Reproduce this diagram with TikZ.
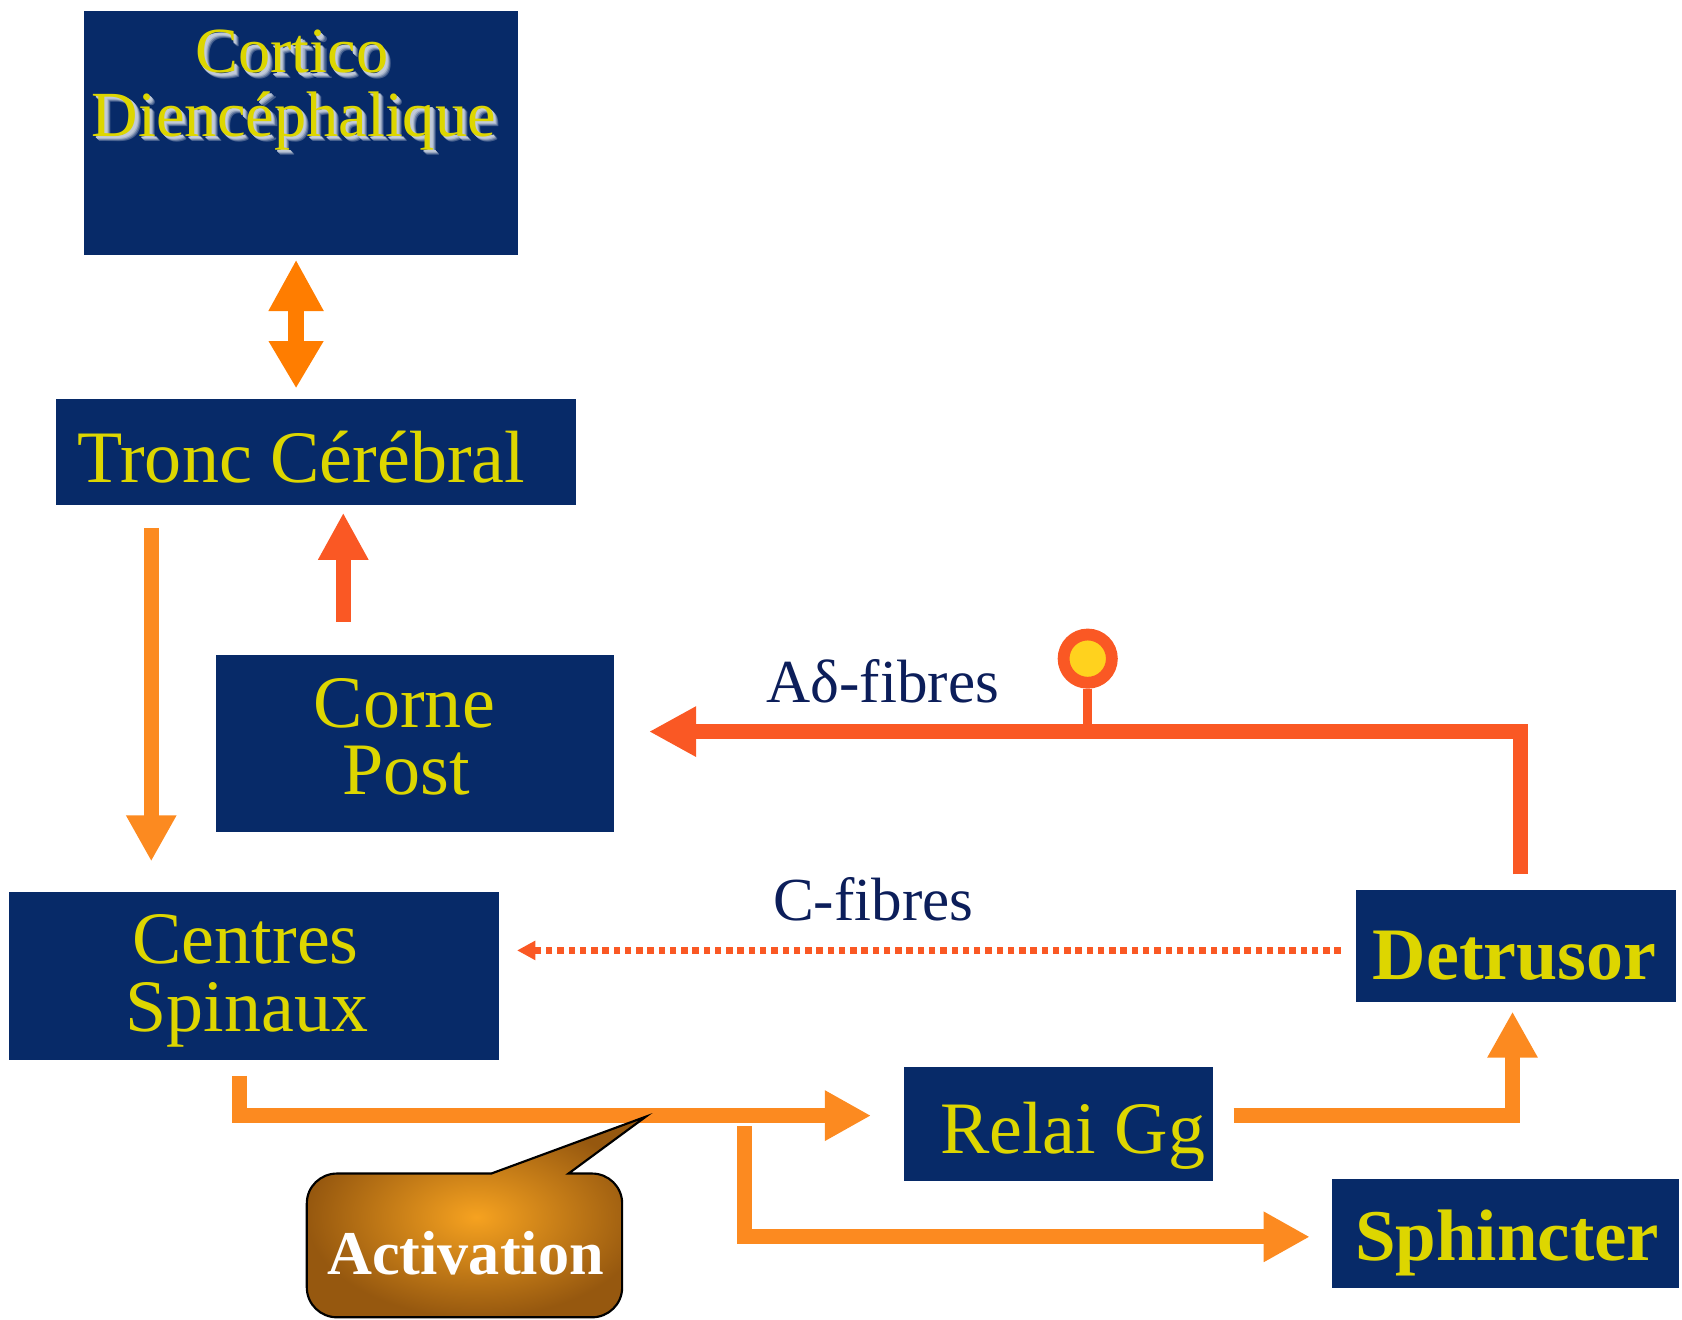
\documentclass[tikz,border=0pt]{standalone}
\usepackage{fontspec}
\setmainfont{Liberation Serif}
\usetikzlibrary{arrows.meta,calc}
\definecolor{navy}{RGB}{7,42,104}
\definecolor{ylw}{RGB}{221,214,0}
\definecolor{orgA}{RGB}{255,125,0}
\definecolor{orgL}{RGB}{252,138,32}
\definecolor{orgR}{RGB}{250,88,36}
\definecolor{dot}{RGB}{255,210,30}
\definecolor{lbl}{RGB}{12,30,90}
\definecolor{brIn}{RGB}{246,162,32}
\definecolor{brOut}{RGB}{150,88,15}
\newcommand\glowtext[1]{%
  \leavevmode
  \rlap{\hspace{5pt}\raisebox{-5pt}{\textcolor{navy!75!white}{#1}}}%
  \rlap{\hspace{4pt}\raisebox{-4pt}{\textcolor{navy!55!white}{#1}}}%
  \rlap{\hspace{3pt}\raisebox{-3pt}{\textcolor{navy!35!white}{#1}}}%
  \rlap{\hspace{2pt}\raisebox{-2pt}{\textcolor{navy!25!white}{#1}}}%
  #1}
\tikzset{
  box/.style={fill=navy, draw=none, inner sep=0pt, outer sep=0pt},
  txt/.style={text=ylw, inner sep=0pt, anchor=base},
  lab/.style={text=lbl, inner sep=0pt, anchor=base, font=\fontsize{57pt}{60pt}\selectfont},
  arrL/.style={draw=orgL, line width=14pt, -{Triangle[length=43pt,width=44pt]}},
  arrR/.style={draw=orgR, line width=14pt, -{Triangle[length=44pt,width=44pt]}},
}
\begin{document}
\begin{tikzpicture}[x=1pt,y=-1pt]
\useasboundingbox (0,0) rectangle (1568,1230);

% boxes
\node[box, minimum width=405pt, minimum height=228pt] (cortico) at (280.5,124) {};
\node[box, minimum width=485pt, minimum height=99pt] (tronc) at (294.5,421.5) {};
\node[box, minimum width=371pt, minimum height=165pt] (corne) at (386.5,693.5) {};
\node[box, minimum width=457pt, minimum height=156pt] (centres) at (236.5,910) {};
\node[box, minimum width=298pt, minimum height=104pt] (detrusor) at (1413,882) {};
\node[box, minimum width=288pt, minimum height=106pt] (relai) at (987,1048) {};
\node[box, minimum width=323pt, minimum height=102pt] (sphincter) at (1403.5,1150) {};

% texts
\begin{scope}[font=\fontsize{60pt}{60pt}\selectfont]
\node[txt] (t1) at (272,68) {\glowtext{Cortico}};
\node[txt] (t2) at (274,127) {\glowtext{Diencéphalique}};
\end{scope}
\begin{scope}[font=\fontsize{69pt}{69pt}\selectfont]
\node[txt] (t3) at (281,450) {Tronc Cérébral};
\node[txt] (t4) at (377,678) {Corne};
\node[txt] (t5) at (379,741) {Post};
\node[txt] (t6) at (229,898) {Centres};
\node[txt] (t7) at (230,962) {Spinaux};
\node[txt] (t8) at (1000,1075) {Relai Gg};
\node[txt, font=\fontsize{69pt}{69pt}\selectfont\bfseries] (t9) at (1412,913) {Detrusor};
\node[txt, font=\fontsize{68pt}{68pt}\selectfont\bfseries] (t10) at (1405,1175) {Sphincter};
\end{scope}

\node[lab] (adl) at (823,655) {Aδ-fibres};
\node[lab] (cfl) at (814,858) {C-fibres};

% double arrow
\draw[draw=orgA, line width=15pt, {Triangle[length=48pt,width=48pt]}-{Triangle[length=44pt,width=48pt]}]
  ($(cortico.south)+(-4.5,4)$) -- ($(tronc.north)+(-18.5,-10)$);
% tronc -> centres
\draw[arrL] ($(tronc.south)+(-153.5,21)$) -- ($(centres.north)+(-95.5,-29)$);
% corne -> tronc
\draw[arrR] ($(corne.north)+(-66.5,-31)$) -- ($(tronc.south)+(25.5,7)$);
% A-delta
\coordinate (adcorner) at (1417,682);
\draw[arrR] ($(detrusor.north)+(4,-15)$) -- (adcorner) -- ($(corne.east)+(33,-11.5)$);
% lollipop
\node[circle, draw=orgR, fill=dot, line width=11pt, minimum size=45pt, inner sep=0pt] (lolli) at (1014,614) {};
\coordinate (stemfoot) at (1014,680);
\draw[draw=orgR, line width=8pt] (lolli.south) -- (stemfoot);
% C-fibres dotted
\draw[draw=orgR, line width=6pt, dash pattern=on 6pt off 4.5pt, -{Triangle[length=17pt,width=17pt]}]
  ($(detrusor.west)+(-14,4)$) -- ($(centres.east)+(17,-24)$);
% centres -> relai
\coordinate (branch) at (694,1050);
\draw[arrL] ($(centres.south)+(-13.5,15)$) |- ($(relai.west)+(-31,-8)$);
% branch -> sphincter
\draw[arrL] (branch) |- ($(sphincter.west)+(-21,3)$);
% relai -> detrusor
\draw[arrL] ($(relai.east)+(19,-8)$) -| ($(detrusor.south)+(-3,9)$);

% Activation callout
\draw[draw=black, line width=2pt, inner color=brIn, outer color=brOut]
  (458,1094) -- (602,1041) -- (530,1094) -- (552,1094)
  .. controls (567,1094) and (580,1106) .. (580,1122) -- (580,1200)
  .. controls (580,1216) and (567,1228) .. (552,1228) -- (314,1228)
  .. controls (299,1228) and (286,1216) .. (286,1200) -- (286,1122)
  .. controls (286,1106) and (299,1094) .. (314,1094) -- cycle;
\node[inner sep=0pt, anchor=base, text=white, font=\fontsize{58pt}{58pt}\selectfont\bfseries] (activation) at (434,1188) {Activation};
\end{tikzpicture}
\end{document}
